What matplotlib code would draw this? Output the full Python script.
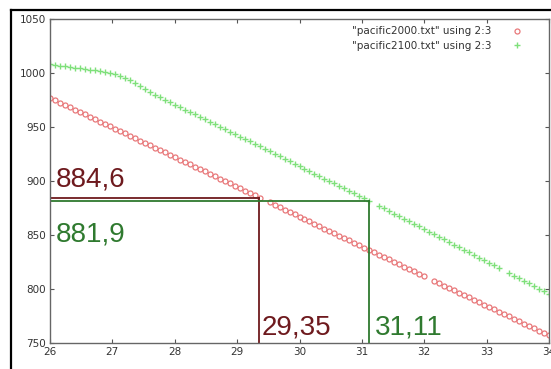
import numpy as np
import matplotlib.pyplot as plt
from matplotlib.lines import Line2D

nan = np.nan

# sample positions shared by both files (column 2)
x_vals = [26.00, 26.08, 26.16, 26.24, 26.32, 26.40, 26.48, 26.56, 26.64, 26.72,
          26.80, 26.88, 26.96, 27.04, 27.12, 27.20, 27.28, 27.36, 27.44, 27.52,
          27.60, 27.68, 27.76, 27.84, 27.92, 28.00, 28.08, 28.16, 28.24, 28.32,
          28.40, 28.48, 28.56, 28.64, 28.72, 28.80, 28.88, 28.96, 29.04, 29.12,
          29.20, 29.28, 29.36, 29.44, 29.52, 29.60, 29.68, 29.76, 29.84, 29.92,
          30.00, 30.08, 30.16, 30.24, 30.32, 30.40, 30.48, 30.56, 30.64, 30.72,
          30.80, 30.88, 30.96, 31.04, 31.12, 31.20, 31.28, 31.36, 31.44, 31.52,
          31.60, 31.68, 31.76, 31.84, 31.92, 32.00, 32.08, 32.16, 32.24, 32.32,
          32.40, 32.48, 32.56, 32.64, 32.72, 32.80, 32.88, 32.96, 33.04, 33.12,
          33.20, 33.28, 33.36, 33.44, 33.52, 33.60, 33.68, 33.76, 33.84, 33.92,
          34.00]

# pacific2000.txt, column 3
p2000 = [977.0, 974.8, 972.6, 970.4, 968.2, 966.0, 963.8, 961.6, 959.4, 957.2,
         955.0, 952.8, 950.6, 948.4, 946.2, 944.0, 941.8, 939.6, 937.4, 935.2,
         933.0, 930.8, 928.6, 926.4, 924.2, 922.0, 919.8, 917.6, 915.4, 913.2,
         911.0, 908.8, 906.6, 904.4, 902.2, 900.0, 897.8, 895.6, 893.4, 891.2,
         889.0, 886.8, 884.6, nan, 880.2, 878.0, 875.8, 873.6, 871.4, 869.2,
         867.0, 864.8, 862.6, 860.4, 858.2, 856.0, 853.8, 851.6, 849.4, 847.2,
         845.0, 842.8, 840.6, 838.4, 836.2, 834.0, 831.8, 829.6, 827.4, 825.2,
         823.0, 820.8, 818.6, 816.4, 814.2, 812.0, nan, 807.6, 805.4, 803.2,
         801.0, 798.8, 796.6, 794.4, 792.2, 790.0, 787.8, 785.6, 783.4, 781.2,
         779.0, 776.8, 774.6, 772.4, 770.2, 768.0, 765.8, 763.6, 761.4, 759.2,
         757.0]

# pacific2100.txt, column 3
p2100 = [1008.0, 1007.4, 1006.8, 1006.2, 1005.6, 1005.0, 1004.4, 1003.8, 1003.2, 1002.6,
         1002.0, 1001.2, 1000.2, 999.0, 997.4, 995.4, 993.2, 990.6, 987.8, 985.0,
         982.2, 979.9, 977.6, 975.4, 973.1, 970.8, 968.5, 966.2, 963.9, 961.7,
         959.4, 957.1, 954.8, 952.5, 950.3, 948.0, 945.7, 943.4, 941.1, 938.8,
         936.6, 934.3, 932.0, 929.7, 927.4, 925.2, 922.9, 920.6, 918.3, 916.0,
         913.7, 911.5, 909.2, 906.9, 904.6, 902.3, 900.1, 897.8, 895.5, 893.2,
         890.9, 888.6, 886.4, 884.1, 881.9, nan, 877.1, 874.7, 872.3, 869.9,
         867.5, 865.1, 862.7, 860.3, 857.9, 855.5, 853.1, 850.7, 848.3, 845.9,
         843.5, 841.1, 838.7, 836.3, 833.9, 831.5, 829.1, 826.7, 824.3, 821.9,
         819.5, nan, 814.7, 812.3, 809.9, 807.5, 805.1, 802.7, 800.3, 797.9,
         795.5]

# read-off points
pt2000 = (29.35, 884.6)
pt2100 = (31.11, 881.9)
lbl2000 = ("884,6", "29,35")
lbl2100 = ("881,9", "31,11")

xticks = [26, 27, 28, 29, 30, 31, 32, 33, 34]
yticks = [750, 800, 850, 900, 950, 1000, 1050]

W, H = 551, 369
fig = plt.figure(figsize=(W / 100, H / 100), dpi=100)
ax = fig.add_axes([50 / W, 26 / H, 499 / W, 324 / H])

red = "#e8787a"
green = "#7ee07a"
dred = "#6e1a1e"
dgreen = "#2f7a2f"

ax.plot(x_vals, p2000, "o", mfc="none", mec=red, ms=3.6, mew=0.9,
        label='"pacific2000.txt" using 2:3')
ax.plot(x_vals, p2100, "+", color=green, ms=4.6, mew=1.0,
        label='"pacific2100.txt" using 2:3')

# guide lines to the two read-off points
ax.plot([26, pt2000[0]], [pt2000[1], pt2000[1]], color=dred, lw=1.3)
ax.plot([pt2000[0], pt2000[0]], [750, pt2000[1]], color=dred, lw=1.3)
ax.plot([26, pt2100[0]], [pt2100[1], pt2100[1]], color=dgreen, lw=1.3)
ax.plot([pt2100[0], pt2100[0]], [750, pt2100[1]], color=dgreen, lw=1.3)

lbl_font = dict(fontsize=20, family="Liberation Sans", va="baseline", ha="left")
ax.text(26.09, 894.5, lbl2000[0], color=dred, **lbl_font)
ax.text(26.09, 844.0, lbl2100[0], color=dgreen, **lbl_font)
ax.text(pt2000[0] + 0.05, 757.5, lbl2000[1], color=dred, **lbl_font)
ax.text(pt2100[0] + 0.1, 757.5, lbl2100[1], color=dgreen, **lbl_font)

ax.set_xlim(26, 34)
ax.set_ylim(750, 1050)
ax.set_xticks(xticks)
ax.set_yticks(yticks)
ax.tick_params(direction="in", length=3, width=0.8, top=True, right=True,
               labelsize=7.5, colors="#555555", labelcolor="#333333", pad=3)
for s in ax.spines.values():
    s.set_color("#666666")
    s.set_linewidth(1.0)

leg = ax.legend(loc="upper right", bbox_to_anchor=(0.956, 0.99), frameon=False,
                fontsize=7.5, markerfirst=False, handlelength=1.2,
                handletextpad=1.8, labelspacing=0.45, borderaxespad=0.0)
for t in leg.get_texts():
    t.set_color("#333333")

# window frame
fig.add_artist(Line2D([10.5 / W, 10.5 / W], [0, 1 - 9.5 / H], color="black", lw=1.6))
fig.add_artist(Line2D([10.5 / W, 1], [1 - 9.5 / H, 1 - 9.5 / H], color="black", lw=1.6))

fig.savefig("out.png", dpi=100)
